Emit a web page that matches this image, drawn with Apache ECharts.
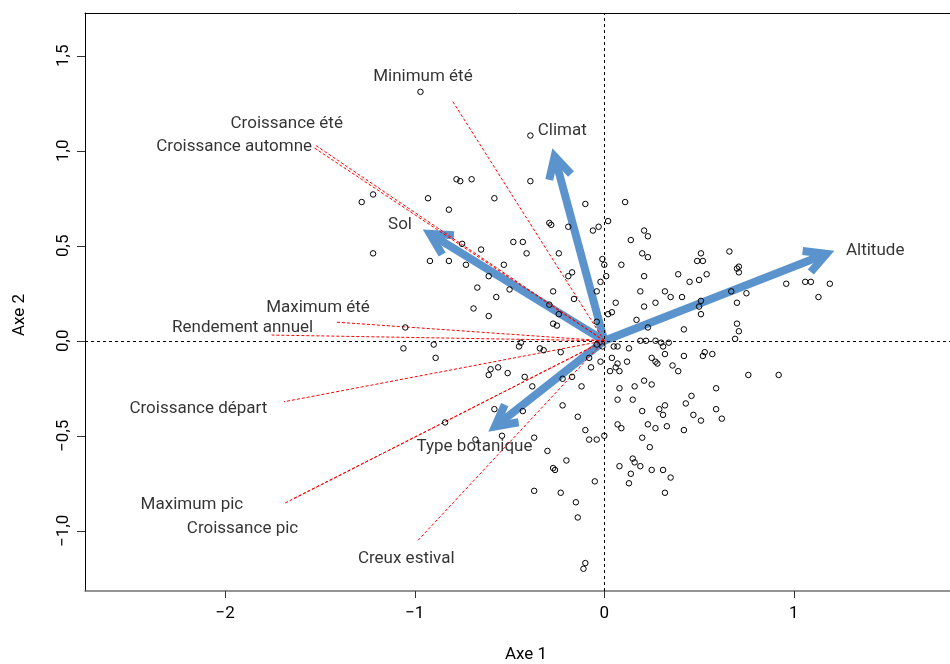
<!DOCTYPE html>
<html>
<head>
<meta charset="utf-8">
<script src="https://cdn.jsdelivr.net/npm/echarts@6/dist/echarts.min.js"></script>
<style>
html, body { margin: 0; padding: 0; background: #fff; }
#main { width: 950px; height: 664px; }
</style>
</head>
<body>
<div id="main"></div>
<script>
// individus (scores sur les axes 1 et 2)
var points = [
    [-0.97,1.31],[-0.39,1.08],[-0.78,0.85],[-0.76,0.84],[-0.70,0.85],[-0.39,0.84],[-0.93,0.75],[-0.58,0.75],
    [-0.82,0.69],[-0.10,0.72],[0.11,0.73],[0.02,0.63],[-0.03,0.60],[-0.06,0.58],[-0.29,0.62],[-0.28,0.61],
    [-0.19,0.60],[0.21,0.58],[-1.28,0.73],[-1.22,0.77],[-1.22,0.46],
    [0.23,0.55],[0.14,0.53],[-0.75,0.51],[-0.65,0.48],[-0.48,0.52],[-0.43,0.52],[-0.41,0.46],[-0.24,0.46],
    [0.20,0.46],[0.23,0.44],[-0.92,0.42],[-0.82,0.42],[-0.73,0.40],[-0.53,0.40],[-0.01,0.43],[0.00,0.40],
    [0.09,0.40],[0.39,0.35],[-0.17,0.36],[-0.19,0.34],[-0.61,0.34],[0.01,0.34],[0.21,0.34],[-0.02,0.31],
    [-0.67,0.28],[-0.50,0.27],[-0.27,0.26],[-0.04,0.26],[0.19,0.26],[0.32,0.26],[0.35,0.23],[-0.57,0.23],
    [-0.16,0.22],[0.06,0.20],[0.27,0.20],[-0.29,0.19],[0.21,0.18],[-0.69,0.17],[0.02,0.14],[0.04,0.15],
    [-0.24,0.14],[-0.61,0.13],[0.17,0.11],[-0.04,0.10],[-0.27,0.09],[-0.25,0.08],[0.23,0.07],[-1.05,0.07],
    [0.19,0.00],[0.22,0.00],[0.27,0.00],[0.30,-0.01],[0.31,-0.03],[0.34,-0.01],[-1.06,-0.04],[-0.90,-0.02],
    [-0.44,-0.01],[-0.45,-0.03],[-0.34,-0.04],[-0.32,-0.05],[-0.23,-0.06],[-0.04,-0.02],[-0.01,-0.03],
    [0.05,-0.03],[0.07,-0.03],[0.13,-0.04],[-0.89,-0.09],[-0.08,-0.09],[0.04,-0.09],[0.25,-0.09],[0.32,-0.07],
    [0.27,-0.11],[0.28,-0.12],[0.12,-0.11],[0.07,-0.12],[0.06,-0.14],[-0.02,-0.11],[-0.07,-0.14],[0.03,-0.16],
    [0.08,-0.16],[0.36,-0.13],[0.39,-0.16],[-0.60,-0.15],[-0.61,-0.18],[-0.56,-0.14],[-0.51,-0.17],[-0.42,-0.19],
    [-0.22,-0.20],[-0.17,-0.19],[-0.38,-0.24],[-0.12,-0.24],[0.08,-0.25],[0.16,-0.24],[0.21,-0.21],[0.25,-0.23],
    [0.07,-0.31],[0.15,-0.31],[-0.22,-0.34],[0.32,-0.34],[-0.58,-0.36],[-0.43,-0.37],[0.20,-0.37],[0.29,-0.36],
    [0.31,-0.39],[-0.14,-0.40],[-0.84,-0.43],[0.07,-0.44],[0.09,-0.46],[0.23,-0.44],[0.27,-0.46],[0.33,-0.45],
    [-0.10,-0.47],[-0.08,-0.52],[-0.04,-0.52],[0.00,-0.50],[0.20,-0.51],[-0.68,-0.52],[-0.54,-0.50],[-0.37,-0.51],
    [-0.30,-0.58],[0.24,-0.56],[-0.20,-0.63],[0.15,-0.62],[0.16,-0.64],[0.08,-0.66],[0.19,-0.66],[0.25,-0.68],
    [0.31,-0.68],[-0.27,-0.67],[-0.26,-0.68],[0.14,-0.70],[0.35,-0.72],
    [0.13,-0.75],[-0.37,-0.79],[-0.23,-0.80],[-0.05,-0.74],[0.32,-0.80],[-0.15,-0.85],[-0.14,-0.93],
    [-0.10,-1.17],[-0.11,-1.20],
    [0.51,0.46],[0.66,0.47],[0.49,0.42],[0.52,0.42],[0.70,0.38],[0.71,0.39],[0.71,0.36],[0.54,0.35],
    [0.45,0.31],[0.50,0.32],[0.41,0.23],[0.67,0.26],[0.51,0.21],[0.75,0.25],[0.96,0.30],[1.06,0.31],
    [1.09,0.31],[1.19,0.30],[1.13,0.23],[0.50,0.18],[0.51,0.14],[0.70,0.20],[0.70,0.09],[0.71,0.05],
    [0.42,0.06],[0.69,0.01],[0.42,-0.08],[0.52,-0.08],[0.53,-0.06],[0.57,-0.07],[0.76,-0.18],[0.92,-0.18],
    [0.59,-0.25],[0.46,-0.29],
    [0.43,-0.33],[0.59,-0.36],[0.47,-0.39],[0.51,-0.42],[0.62,-0.41],[0.42,-0.47]
];

// variables supplementaires (pointilles rouges)
var varNames = ['Minimum été', 'Croissance été', 'Croissance automne', 'Maximum été', 'Rendement annuel',
    'Croissance départ', 'Maximum pic', 'Croissance pic', 'Creux estival'];
var varEnds = [[-0.802,1.263],[-1.521,1.027],[-1.536,1.019],[-1.416,0.098],[-1.755,0.030],
    [-1.690,-0.321],[-1.694,-0.859],[-1.643,-0.833],[-0.990,-1.058]];

// facteurs (fleches bleues)
var arrowNames = ['Altitude', 'Climat', 'Sol', 'Type botanique'];
var arrowEnds = [[1.214,0.474],[-0.274,1.013],[-0.958,0.586],[-0.612,-0.479]];

// etiquettes
var labelNames = ['Minimum été', 'Croissance été', 'Croissance automne', 'Climat', 'Sol', 'Altitude',
    'Maximum été', 'Rendement annuel', 'Croissance départ', 'Type botanique', 'Maximum pic',
    'Croissance pic', 'Creux estival'];
var labelX = [-0.957, -1.379, -1.542, -0.351, -1.078, 1.275, -1.237, -1.536, -1.778, -0.685, -1.905, -1.615, -1.045];
var labelY = [1.388, 1.141, 1.019, 1.105, 0.609, 0.474, 0.173, 0.068, -0.359, -0.558, -0.865, -0.987, -1.149];
var labelAlign = ['center', 'right', 'right', 'left', 'center', 'left', 'right', 'right', 'right',
    'center', 'right', 'right', 'center'];

var xTicks = [-2, -1, 0, 1];
var yTicks = [-1, -0.5, 0, 0.5, 1, 1.5];

var font = 'Roboto';
var blue = '#5b93cd';
var ink = '#000';

var myChart = echarts.init(document.getElementById('main'));

function minus(s) {
    return String(s).replace('-', '\u2212');
}

var series = [];

// lignes a zero
series.push({
    type: 'line',
    data: [],
    silent: true,
    z: 1,
    markLine: {
        silent: true,
        symbol: 'none',
        label: { show: false },
        lineStyle: { color: '#000', width: 1, type: [3, 3] },
        data: [{ xAxis: 0 }, { yAxis: 0 }]
    }
});

// fleches
series.push({
    type: 'custom',
    z: 2,
    silent: true,
    data: arrowEnds,
    renderItem: function (params, api) {
        var p0 = api.coord([0, 0]);
        var p1 = api.coord([api.value(0), api.value(1)]);
        var dx = p1[0] - p0[0], dy = p1[1] - p0[1];
        var len = Math.sqrt(dx * dx + dy * dy);
        var ux = dx / len, uy = dy / len;
        var a = 28 * Math.PI / 180, L = 24, w = 8;
        // pointe en onglet : on recule le sommet pour que le bord exterieur tombe sur la valeur
        var back = (w / 2) / Math.sin(a);
        var tip = [p1[0] - ux * back, p1[1] - uy * back];
        function arm(s) {
            var c = Math.cos(a), sn = Math.sin(a) * s;
            var bx = -ux, by = -uy;
            return [tip[0] + L * (bx * c - by * sn), tip[1] + L * (bx * sn + by * c)];
        }
        return {
            type: 'group',
            children: [{
                type: 'line',
                shape: { x1: p0[0], y1: p0[1], x2: tip[0] - ux * 2, y2: tip[1] - uy * 2 },
                style: { stroke: blue, lineWidth: w }
            }, {
                type: 'polyline',
                shape: { points: [arm(1), tip, arm(-1)] },
                style: { stroke: blue, lineWidth: w, fill: null, lineJoin: 'miter', miterLimit: 10 }
            }]
        };
    }
});

// pointilles rouges
varEnds.forEach(function (end, i) {
    series.push({
        name: varNames[i],
        type: 'line',
        z: 3,
        silent: true,
        symbol: 'none',
        data: [[0, 0], end],
        lineStyle: { color: '#ff0000', width: 1, type: [3, 2] }
    });
});

// individus
series.push({
    type: 'scatter',
    z: 4,
    silent: true,
    symbol: 'circle',
    symbolSize: 5.5,
    data: points,
    itemStyle: { color: 'rgba(0,0,0,0)', borderColor: '#000', borderWidth: 1, opacity: 1 }
});

// etiquettes
series.push({
    type: 'scatter',
    z: 5,
    silent: true,
    symbolSize: 0,
    data: labelNames.map(function (n, i) {
        return {
            name: n,
            value: [labelX[i], labelY[i]],
            label: { align: labelAlign[i] }
        };
    }),
    label: {
        show: true,
        position: 'inside',
        formatter: '{b}',
        color: ink,
        fontFamily: font,
        fontSize: 17,
        verticalAlign: 'middle'
    }
});

var option = {
    animation: false,
    backgroundColor: '#fff',
    grid: { left: 85, right: 0, top: 13, bottom: 73 },
    xAxis: [{
        type: 'value',
        min: -2.74,
        max: 1.824,
        position: 'bottom',
        axisLine: { show: true, onZero: false, lineStyle: { color: '#707070', width: 1.5 } },
        axisTick: { show: true, customValues: xTicks, length: 7, lineStyle: { color: '#333' } },
        axisLabel: {
            customValues: xTicks,
            margin: 14,
            color: ink,
            fontFamily: font,
            fontSize: 17,
            formatter: function (v) { return minus(v); }
        },
        splitLine: { show: false }
    }, {
        type: 'value',
        min: -2.74,
        max: 1.824,
        position: 'top',
        axisLine: { show: true, onZero: false, lineStyle: { color: '#000', width: 1 } },
        axisTick: { show: false },
        axisLabel: { show: false },
        splitLine: { show: false }
    }],
    yAxis: {
        type: 'value',
        min: -1.317,
        max: 1.725,
        axisLine: { show: true, onZero: false, lineStyle: { color: '#000', width: 1 } },
        axisTick: { show: true, customValues: yTicks, length: 8, lineStyle: { color: '#333' } },
        axisLabel: {
            customValues: yTicks,
            rotate: 90,
            margin: 13,
            color: ink,
            fontFamily: font,
            fontSize: 17,
            formatter: function (v) { return minus(v.toFixed(1).replace('.', ',')); }
        },
        splitLine: { show: false }
    },
    graphic: [{
        type: 'text',
        x: 526, y: 655,
        style: { text: 'Axe 1', fontFamily: font, fontSize: 17, fill: ink, align: 'center', verticalAlign: 'middle' }
    }, {
        type: 'text',
        x: 20, y: 315,
        rotation: Math.PI / 2,
        style: { text: 'Axe 2', fontFamily: font, fontSize: 17, fill: ink, align: 'center', verticalAlign: 'middle' }
    }],
    series: series
};

myChart.setOption(option);
</script>
</body>
</html>
